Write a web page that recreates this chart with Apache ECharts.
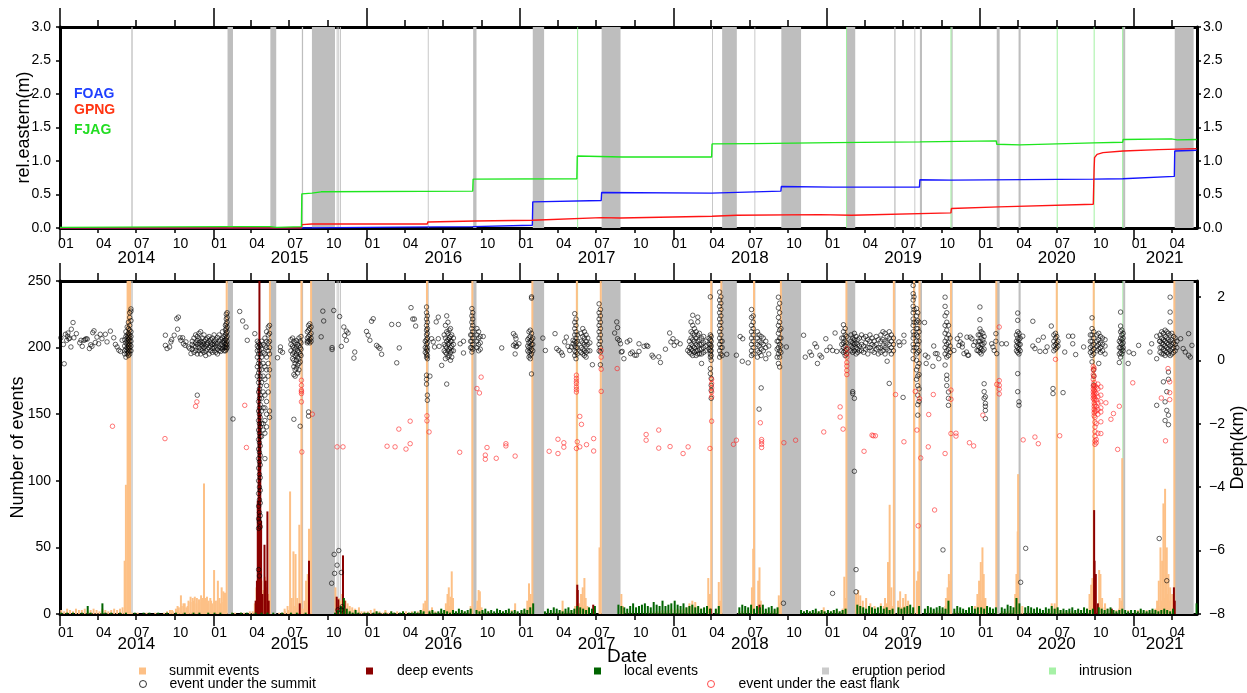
<!DOCTYPE html>
<html><head><meta charset="utf-8">
<script src="https://cdn.jsdelivr.net/npm/echarts@6/dist/echarts.min.js"></script>
<style>html,body{margin:0;padding:0;background:#fff}#c{width:1247px;height:693px}</style>
</head><body><div id="c"></div>
<script>
const FONT='"Liberation Sans", Arial, Helvetica, sans-serif';
const X_START='2014-01-01', X_END='2021-06-01';
const quarterMonthLabels=['01','04','07','10'];
const yearLabels=['2014','2015','2016','2017','2018','2019','2020','2021'];
const yearLabelDates=['2014-07-02','2015-07-02','2016-07-02','2017-07-02','2018-07-02','2019-07-02','2020-07-02','2021-03-16'];
const depthTicks=[-8,-6,-4,-2,0,2];

// eruption periods and intrusions [start, end]
const eruptions=[['2014-06-20','2014-06-23'],['2015-02-04','2015-02-17'],['2015-05-17','2015-05-31'],['2015-07-31','2015-08-03'],['2015-08-24','2015-10-18'],['2015-10-22','2015-10-24'],['2015-10-26','2015-10-28'],['2015-10-30','2015-11-01'],['2016-05-26','2016-05-28'],['2016-09-11','2016-09-19'],['2017-01-31','2017-02-27'],['2017-07-14','2017-08-28'],['2018-04-03','2018-04-05'],['2018-04-27','2018-06-01'],['2018-07-13','2018-07-15'],['2018-09-15','2018-11-01'],['2019-02-18','2019-03-10'],['2019-06-11','2019-06-14'],['2019-07-29','2019-07-31'],['2019-08-11','2019-08-16'],['2019-10-25','2019-10-28'],['2020-02-10','2020-02-17'],['2020-04-02','2020-04-07'],['2020-12-07','2020-12-12'],['2021-04-09','2021-05-24']];
const intrusions=[['2017-05-17','2017-05-19'],['2019-02-16','2019-02-18'],['2019-10-23','2019-10-25'],['2020-07-02','2020-07-04'],['2020-09-28','2020-09-30'],['2020-12-05','2020-12-07']];

// GNSS relative eastern displacement (m)
const foag=[['2014-01-01',0.0],['2015-07-30',0.0],['2016-01-01',0.01],['2016-09-10',0.02],['2017-01-30',0.04],['2017-01-31',0.39],['2017-07-13',0.41],['2017-07-14',0.53],['2018-04-01',0.52],['2018-09-14',0.55],['2018-09-15',0.62],['2019-01-15',0.61],['2019-08-10',0.61],['2019-08-11',0.72],['2019-10-25',0.715],['2020-09-28',0.73],['2020-12-06',0.735],['2020-12-07',0.76],['2021-04-08',0.77],['2021-04-09',1.15],['2021-05-31',1.16]];
const gpng=[['2014-01-01',0.0],['2015-07-30',0.0],['2015-07-31',0.05],['2015-08-24',0.06],['2016-05-25',0.06],['2016-05-26',0.09],['2016-09-15',0.105],['2017-01-30',0.115],['2017-01-31',0.135],['2017-07-14',0.155],['2017-08-28',0.15],['2018-04-03',0.175],['2018-06-01',0.19],['2018-12-15',0.2],['2019-03-01',0.19],['2019-10-24',0.225],['2019-10-25',0.29],['2020-02-15',0.315],['2020-09-27',0.355],['2020-09-29',0.9],['2020-09-30',1.05],['2020-10-06',1.1],['2020-10-20',1.125],['2020-12-07',1.15],['2021-03-01',1.17],['2021-05-31',1.185]];
const fjag=[['2014-01-01',0.01],['2015-02-04',0.02],['2015-05-17',0.02],['2015-06-01',0.01],['2015-07-30',0.02],['2015-07-31',0.51],['2015-08-24',0.52],['2015-09-15',0.54],['2016-09-10',0.55],['2016-09-11',0.73],['2017-05-16',0.735],['2017-05-17',1.075],['2017-09-01',1.06],['2018-04-02',1.06],['2018-04-03',1.255],['2018-07-12',1.26],['2018-07-13',1.285],['2019-01-15',1.275],['2019-08-11',1.285],['2020-02-09',1.3],['2020-02-10',1.25],['2020-04-05',1.24],['2020-09-28',1.27],['2020-12-06',1.28],['2020-12-07',1.32],['2021-04-01',1.33],['2021-04-15',1.315],['2021-05-31',1.32]];

// weekly background counts per year (week i starts Jan 4 + 7*i)
const weeklyStartYear=2014;
const summitWeekly=[
[3,2,4,3,2,4,3,3,4,2,3,4,3,2,4,3,2,3,4,3,4,0,0,0,1,0,1,0,0,1,0,0,1,0,0,1,2,3,2,4,5,6,8,6,9,10,8,9,10,9,8,10],
[9,10,8,9,0,0,1,1,0,1,1,0,2,2,5,8,10,9,8,0,0,0,1,1,2,3,4,6,5,0,4,8,6,0,0,0,0,0,0,0,0,0,6,5,5,4,3,3,2,3,2,2],
[2,3,1,2,2,1,2,1,2,1,2,1,2,2,1,2,1,2,3,4,0,3,2,2,1,2,3,4,6,4,2,1,2,2,1,3,0,4,5,2,1,2,1,1,2,1,2,1,2,3,2,1],
[2,3,4,5,0,0,0,0,1,2,1,2,1,2,3,2,2,3,2,3,4,5,3,2,2,3,0,0,0,0,0,0,0,0,3,2,1,2,2,1,2,1,2,1,2,1,2,2,3,2,3,4],
[3,4,3,4,5,6,5,6,5,4,3,4,6,0,3,5,0,0,0,0,0,0,2,2,3,3,4,5,4,6,3,3,2,2,3,4,0,0,0,0,0,0,0,1,2,1,2,1,2,2,3,2],
[2,2,3,3,2,4,6,0,0,0,5,6,5,4,4,3,3,4,5,6,8,10,6,0,4,5,6,5,4,3,0,6,0,3,3,2,3,2,3,4,6,8,0,2,2,2,2,3,3,4,6,8],
[10,12,6,4,3,2,0,2,2,2,3,3,4,5,6,0,2,2,3,2,3,2,2,3,4,4,4,3,2,2,2,2,2,3,3,3,4,6,8,0,6,8,5,4,3,3,3,4,6,0,3,2],
[2,3,3,2,3,2,3,4,6,10,12,15,10,0,0,0,0,0,0,0,0]];
const localWeekly=[
[1,0,1,0,1,0,0,1,0,6,1,0,0,0,8,1,0,1,0,0,1,0,1,0,0,1,0,0,1,0,1,0,0,1,0,0,1,0,0,1,0,0,1,0,0,1,0,1,0,0,1,0],
[1,0,1,0,0,0,1,0,0,1,0,1,0,0,1,0,1,0,1,0,1,0,0,1,0,0,1,0,1,0,0,1,0,0,0,0,0,0,0,0,0,1,3,6,12,4,2,1,3,1,0,1],
[1,0,1,2,1,0,1,0,2,1,0,1,2,0,1,1,2,1,3,2,0,2,3,1,2,4,3,2,1,3,2,4,3,2,3,4,0,3,2,3,4,2,3,2,4,3,2,3,4,2,3,2],
[3,4,3,5,8,0,0,0,2,4,3,5,4,3,2,4,5,3,4,6,5,4,3,5,4,6,0,0,0,0,0,0,0,7,6,5,4,6,8,5,6,7,8,6,5,9,7,6,10,6,7,8],
[10,7,6,8,5,6,7,5,6,4,5,6,4,0,4,6,0,0,0,0,0,0,5,7,6,5,7,4,6,5,7,4,5,6,4,5,0,0,0,0,0,0,0,3,2,3,2,3,4,2,3,2],
[3,2,3,4,2,3,4,0,0,0,7,6,5,4,6,5,4,5,6,4,5,3,4,0,5,4,5,6,7,5,0,6,0,4,6,5,4,5,6,5,4,10,0,4,6,5,4,3,5,6,4,5],
[5,4,6,5,4,5,0,5,4,7,6,5,12,8,0,5,6,5,4,5,4,3,5,4,6,4,5,3,4,3,4,5,3,4,3,5,4,3,4,0,5,4,3,4,5,3,2,3,4,3,2,3],
[3,2,4,3,2,3,4,3,2,3,4,3,2,4,0,0,0,0,0,0,0,8]];

// individual daily counts
const summitPeaks=[['2014-05-30',5],['2014-06-04',40],['2014-06-07',97],['2014-06-11',260],['2014-06-13',260],['2014-06-15',260],['2014-06-17',260],
['2014-09-25',3],['2014-10-08',6],['2014-10-16',14],['2014-10-22',8],['2014-10-29',5],['2014-11-03',10],['2014-11-08',13],['2014-11-13',12],['2014-11-18',13],['2014-11-23',12],['2014-11-28',11],['2014-12-03',14],['2014-12-07',12],['2014-12-10',98],['2014-12-13',12],['2014-12-17',13],['2014-12-21',10],['2014-12-25',12],['2014-12-29',8],['2015-01-03',33],['2015-01-07',10],['2015-01-12',25],['2015-01-16',12],['2015-01-21',20],['2015-01-25',17],['2015-01-29',16],['2015-02-02',260],
['2015-04-10',8],['2015-04-14',20],['2015-04-18',30],['2015-04-22',28],['2015-04-26',25],['2015-04-30',18],['2015-05-04',28],['2015-05-08',20],['2015-05-12',15],['2015-05-16',260],
['2015-06-20',4],['2015-06-27',6],['2015-07-03',92],['2015-07-07',12],['2015-07-11',47],['2015-07-16',45],['2015-07-20',12],['2015-07-25',67],['2015-07-30',260],['2015-08-06',10],['2015-08-10',25],['2015-08-14',30],['2015-08-17',64],['2015-08-22',260],
['2015-10-19',20],['2015-10-23',8],['2015-10-27',12],['2015-10-31',10],['2015-11-04',15],['2015-11-08',12],['2015-11-12',10],['2015-11-17',8],['2015-11-22',6],['2015-11-28',5],['2015-12-05',4],['2015-12-14',5],
['2016-01-20',4],['2016-02-15',3],['2016-05-16',8],['2016-05-20',10],['2016-05-24',260],['2016-06-05',5],['2016-07-08',8],['2016-07-12',15],['2016-07-15',20],['2016-07-19',13],['2016-07-22',32],['2016-07-25',12],['2016-09-05',6],['2016-09-09',260],['2016-09-21',10],['2016-09-24',18],['2016-09-27',17],['2016-10-01',5],['2016-12-20',8],
['2017-01-18',10],['2017-01-22',23],['2017-01-26',15],['2017-01-30',260],['2017-04-12',10],['2017-05-12',6],['2017-05-16',260],['2017-05-22',8],['2017-05-26',15],['2017-05-30',20],['2017-06-03',27],['2017-06-06',12],['2017-06-10',6],['2017-07-09',50],['2017-07-12',260],['2017-08-30',15],['2017-09-03',6],
['2018-02-08',8],['2018-02-15',10],['2018-02-22',9],['2018-03-25',27],['2018-03-29',15],['2018-04-01',260],['2018-04-19',24],['2018-04-22',10],['2018-04-25',260],['2018-07-07',20],['2018-07-10',49],['2018-07-12',260],['2018-07-22',25],['2018-07-25',35],['2018-07-28',10],['2018-09-09',14],['2018-09-12',8],['2018-09-14',260],['2018-12-25',5],
['2019-02-12',28],['2019-02-15',12],['2019-02-17',260],['2019-03-12',15],['2019-03-17',18],['2019-03-22',14],['2019-03-28',10],['2019-04-05',12],['2019-04-15',8],['2019-04-25',6],['2019-05-10',8],['2019-05-20',12],['2019-05-27',39],['2019-05-31',82],['2019-06-04',20],['2019-06-10',260],['2019-06-20',10],['2019-06-25',17],['2019-07-02',12],['2019-07-08',15],['2019-07-14',10],['2019-07-28',260],['2019-08-04',25],['2019-08-07',32],['2019-08-10',260],['2019-10-12',12],['2019-10-16',20],['2019-10-19',30],['2019-10-22',25],['2019-10-24',260],['2019-12-20',5],['2019-12-26',15],
['2019-12-30',25],['2020-01-03',39],['2020-01-07',50],['2020-01-10',30],['2020-01-14',12],['2020-02-09',260],['2020-03-25',15],['2020-03-28',30],['2020-03-31',62],['2020-04-01',105],['2020-06-20',8],['2020-06-27',8],['2020-07-02',260],['2020-09-18',15],['2020-09-22',22],['2020-09-25',27],['2020-09-28',260],['2020-10-11',33],['2020-10-14',30],['2020-10-18',12],['2020-10-25',8],['2020-11-29',12],['2020-12-03',10],['2020-12-05',117],
['2021-02-26',10],['2021-03-02',25],['2021-03-06',50],['2021-03-10',40],['2021-03-13',83],['2021-03-17',94],['2021-03-21',50],['2021-03-25',30],['2021-03-29',20],['2021-04-03',15],['2021-04-08',260]];
const deepPeaks=[['2015-04-12',10],['2015-04-15',25],['2015-04-17',85],['2015-04-19',170],['2015-04-21',260],['2015-04-23',150],['2015-04-25',70],['2015-04-28',15],['2015-05-03',52],['2015-05-06',25],['2015-05-10',77],['2015-05-13',10],['2015-07-26',8],['2015-08-17',40],['2015-10-22',13],['2015-10-26',11],['2015-11-06',44],['2015-11-10',10],['2017-05-17',22],['2017-05-18',18],['2017-06-24',7],['2018-03-31',4],['2018-07-25',7],['2020-09-29',78],['2020-09-30',40],['2020-10-03',30],['2020-10-08',8],['2020-11-10',4],['2021-04-07',20],['2021-04-09',10]];

// hypocentre depths (km): [date, depth, depth, ...]
const summitDepths=[
['2014-01-03',0.71],['2014-01-09',0.5],['2014-01-11',-0.11],['2014-01-14',0.82],['2014-01-17',0.63],['2014-01-19',0.76],['2014-01-20',0.86],['2014-01-22',0.68],['2014-01-24',0.7],['2014-01-27',0.42],['2014-01-28',0.98],['2014-02-01',1.19],['2014-02-03',0.71],['2014-02-09',0.84],['2014-02-17',0.55],['2014-02-20',0.63],['2014-02-23',0.44],['2014-02-27',0.63],['2014-03-02',0.65],['2014-03-04',0.68],['2014-03-07',0.67],['2014-03-12',0.37],['2014-03-15',0.49],['2014-03-18',0.44],['2014-03-20',0.87],['2014-03-23',0.93],['2014-03-26',0.56],['2014-03-30',0.73],['2014-04-03',0.52],['2014-04-07',0.82],['2014-04-11',0.68],['2014-04-19',0.82],['2014-04-23',0.58],['2014-05-01',0.92],['2014-05-09',0.71],['2014-05-13',0.5],['2014-05-17',0.42],['2014-05-21',0.32],['2014-05-25',0.28],['2014-05-29',0.63],
['2014-06-04',0.2,0.45,0.65,0.3],['2014-06-07',0.1,0.35,0.55,0.75,0.9],['2014-06-10',0.2,0.3,0.4,0.5,0.6,0.7,0.8,1.05],['2014-06-13',0.15,0.25,0.35,0.45,0.55,0.65,0.75,0.85,1.0,1.2],['2014-06-16',0.2,0.3,0.4,0.5,0.6,0.7,0.8,0.95,1.1,1.35,1.5],['2014-06-19',0.3,0.45,0.6,0.75,0.9,1.25,1.55,1.62],
['2014-09-09',0.79,0.47],['2014-09-13',0.37],['2014-09-19',0.42],['2014-09-22',0.58],['2014-09-24',0.65],['2014-09-30',0.79],['2014-10-06',1.31],['2014-10-08',0.98],['2014-10-10',1.36],['2014-10-14',0.71],['2014-10-16',0.63],['2014-10-20',0.71],['2014-10-22',0.52],['2014-10-26',0.47],['2014-10-28',0.58],['2014-11-03',0.42],['2014-11-06',0.37],['2014-11-09',0.21],
['2014-11-12',0.6,0.35,0.5],['2014-11-16',0.7,0.45,0.25],['2014-11-20',0.55,0.3,0.8,0.42],['2014-11-24',0.62,0.5,0.2,0.75,-1.1],['2014-11-28',0.68,0.4,0.55,0.3,0.85],['2014-12-02',0.5,0.35,0.6,0.9,0.2],['2014-12-06',0.55,0.45,0.7,0.3],['2014-12-10',0.6,0.4,0.25,0.5,0.8],['2014-12-14',0.45,0.65,0.3,0.15],['2014-12-18',0.5,0.7,0.35,0.55],['2014-12-22',0.4,0.6,0.2,0.75],['2014-12-26',0.55,0.3,0.45,0.65],['2014-12-30',0.5,0.38,0.7,0.25],['2015-01-03',0.6,0.4,0.3,0.8,0.5],['2015-01-07',0.45,0.25,0.65,0.55],['2015-01-11',0.52,0.35,0.72,0.2],['2015-01-15',0.6,0.42,0.3,0.8],['2015-01-19',0.5,0.65,0.38,0.28],['2015-01-23',0.7,0.45,0.58,0.35,0.9],['2015-01-27',0.55,0.4,0.75,0.3,0.62],['2015-01-30',0.5,0.65,0.8,0.95,1.1,0.4,0.3],['2015-02-01',0.55,0.7,0.85,1.0,1.15,1.3,1.45,0.45,0.35],['2015-02-03',0.6,0.75,0.9,1.05,1.2,1.35,1.5,0.5,0.4],['2015-02-17',-1.85],
['2015-03-05',1.54],['2015-03-12',1.24],['2015-03-20',1.05],['2015-03-23',0.63],['2015-04-10',0.84],
['2015-04-16',0.6,0.45,0.3,0.1,-0.2,-0.5],['2015-04-19',0.55,0.4,0.2,-0.1,-0.4,-0.7,-1.0,-1.3,-1.6,-1.9,-2.2,-2.5,-2.8,-3.1,-3.4,-3.8,-4.2,-4.6,-5.0,-5.3,-6.6],['2015-04-21',0.5,0.3,0.0,-0.3,-0.6,-0.9,-1.2,-1.5,-1.7,-2.0,-2.3,-2.6,-2.9,-3.2,-3.6,-4.0,-4.4,-4.8,-5.1,-6.8],['2015-04-23',0.45,0.2,-0.15,-0.5,-0.8,-1.1,-1.4,-1.8,-2.1,-2.4,-2.7,-3.0,-3.3,-3.7,-4.1,-4.5,-4.9,-5.25],['2015-04-26',0.6,0.35,0.1,-0.3,-0.7,-1.2,-1.6,-2.0,-2.4],['2015-04-30',0.5,0.25,-0.1,-0.5,-1.0,-1.5,-2.0,-2.2],['2015-05-04',0.7,0.45,0.2,-0.2,-0.6,-1.1,-1.5,-1.9,-2.3,-3.1],['2015-05-08',0.9,0.6,0.4,0.1,-0.3,-0.8,-1.3,-1.7,-2.1],['2015-05-12',1.05,0.8,0.55,0.3,-0.1,-0.5,-1.0],['2015-05-15',1.1,0.85,0.6,0.4,0.2,-0.3,-1.6,-1.8],
['2015-06-03',0.08],['2015-06-10',0.42,0.3],['2015-06-15',0.25],
['2015-07-05',0.5,0.65,0.3],['2015-07-09',0.7,0.45,0.2,0.05],['2015-07-12',0.6,0.4,0.25,0.0,-0.2,-0.45,-1.86],['2015-07-15',0.55,0.35,0.15,-0.1,-0.3,-0.5],['2015-07-18',0.62,0.42,0.2,0.0,-0.25],['2015-07-21',0.5,0.3,0.1,-0.15,-0.4],['2015-07-24',0.7,0.45,0.25,0.05,-0.1,-0.3],['2015-07-27',0.6,0.4,0.2,-0.05,-2.08],['2015-07-29',0.75,0.55,0.35,0.15],
['2015-08-13',0.55,0.7,0.9,0.6],['2015-08-16',0.6,0.75,0.95,1.1,-1.63,-1.76],['2015-08-19',0.65,0.8,1.0,1.15,0.55],['2015-08-22',0.7,0.85,1.05,0.6],
['2015-09-15',0.74],['2015-09-19',1.55],['2015-09-21',1.24],['2015-10-10',-7.03],['2015-10-11',0.4,0.34],['2015-10-15',1.57],['2015-10-16',-6.12],['2015-10-17',-6.72],['2015-10-23',-6.46],['2015-10-25',-7.87],['2015-10-27',-6.0],['2015-10-29',1.38],['2015-11-02',0.44,-6.69,-7.87],['2015-11-04',-7.77],['2015-11-08',1.05],['2015-11-10',0.78],['2015-11-14',0.92,0.63],['2015-11-18',0.86],['2015-12-02',0.07],['2015-12-04',0.26],
['2016-01-01',0.91],['2016-01-05',0.79],['2016-01-09',0.63],['2016-01-13',1.23],['2016-01-17',1.31],['2016-01-25',0.47],['2016-01-29',0.42],['2016-02-02',0.37],['2016-02-06',0.19],['2016-03-01',1.13],['2016-03-13',-0.08],['2016-03-17',1.13],['2016-03-19',0.39],['2016-04-16',1.66],['2016-04-20',1.3],['2016-04-24',1.3],['2016-04-27',1.08],
['2016-05-20',0.4,0.6,0.25],['2016-05-23',1.68,1.5,1.3,1.1,0.95,0.8,0.65,0.5,0.35,0.2,0.1,-0.47,-0.6,-0.75],['2016-05-25',1.4,1.2,1.0,0.85,0.7,0.55,0.4,0.3,0.15,0.05,-1.1,-1.26],
['2016-05-31',-0.5],['2016-06-04',0.68],['2016-06-08',0.58],['2016-06-11',0.42],['2016-06-15',1.21],['2016-06-20',1.36,0.68],['2016-06-22',0.44],['2016-06-28',-0.16],
['2016-07-04',0.8,0.5,0.3],['2016-07-07',1.1,0.7,0.45,0.25,0.05],['2016-07-10',1.4,0.9,0.6,0.4,0.2,-0.75],['2016-07-13',1.2,0.85,0.65,0.5,0.3,0.1],['2016-07-16',0.95,0.7,0.55,0.35,0.15],['2016-07-19',1.0,0.75,0.6,0.4,0.25,0.0],['2016-07-22',0.8,0.6,0.45,0.3,0.1],['2016-07-26',0.7,0.5,0.3],
['2016-08-11',0.52],['2016-08-19',0.6,0.23],
['2016-09-05',0.6,0.8,0.4],['2016-09-08',1.63,1.4,1.2,1.0,0.8,0.6,0.4,0.26],['2016-09-10',1.5,1.3,1.1,0.9,0.7,0.5,0.35],['2016-09-20',1.0,0.8,0.6,0.4],['2016-09-24',0.9,0.7,0.5,0.3],['2016-09-28',0.75,0.55,0.35],['2016-10-05',0.75],
['2016-11-18',0.39],['2016-12-16',0.84,0.47],['2016-12-20',0.77,0.52,0.2],['2016-12-22',0.43,0.68],['2016-12-24',0.45],['2016-12-29',0.52],
['2017-01-19',0.45,0.65,0.3],['2017-01-22',0.9,0.7,0.55,0.4,0.25,0.1],['2017-01-25',0.95,0.75,0.6,0.45,0.3,0.15,0.05],['2017-01-28',2.0,1.96,0.85,0.65,0.5,0.35,0.2,-0.43],['2017-01-31',0.7,0.5,0.3],
['2017-02-24',0.7],['2017-03-02',0.31],['2017-03-25',0.84],['2017-03-29',0.37],['2017-04-03',0.31],['2017-04-09',0.24],['2017-04-12',0.16],['2017-04-17',0.58],['2017-04-21',0.73],['2017-04-25',0.44],['2017-04-29',0.31],['2017-05-03',0.42],['2017-05-07',0.52,0.63],
['2017-05-11',1.47,1.2,1.0,0.8,0.6,0.45,0.3,0.15],['2017-05-14',1.3,1.1,0.9,0.7,0.55,0.4,0.25,0.05],['2017-05-17',0.8,0.6,0.4,0.2],
['2017-05-26',0.85,0.6,0.4,0.25],['2017-05-30',1.0,0.75,0.55,0.35,0.2],['2017-06-03',0.9,0.7,0.5,0.3,0.15],['2017-06-07',0.8,0.6,0.45,0.25,0.1],['2017-06-11',0.7,0.5,0.3],['2017-06-16',0.55,0.3],['2017-06-22',-0.14],
['2017-07-08',1.78,1.5,1.3,1.1,0.9,0.7,0.5,0.3],['2017-07-11',1.6,1.4,1.2,1.0,0.8,0.6,0.4,0.26,-0.14],
['2017-08-14',0.86],['2017-08-19',1.21],['2017-08-21',1.03,0.68],['2017-08-25',0.63],['2017-08-28',0.52],['2017-08-30',0.26],['2017-09-01',0.28],['2017-09-05',0.05],['2017-09-13',0.58],['2017-09-19',0.63],['2017-09-21',0.21],['2017-09-25',0.26],['2017-10-01',0.16],['2017-10-05',0.16],['2017-10-11',0.52,0.28],['2017-10-23',0.44],['2017-10-29',0.47],['2017-11-01',0.44],['2017-11-11',0.16],['2017-11-14',0.1],['2017-11-27',0.11],['2017-12-01',-0.07],['2017-12-13',0.35],['2017-12-23',0.86],['2017-12-26',0.58],['2017-12-31',0.68],['2018-01-03',0.47],['2018-01-09',0.58],['2018-01-17',0.52],['2018-02-04',0.31],
['2018-02-08',0.6,0.4,0.25],['2018-02-12',1.21,0.9,0.7,0.5,0.35,0.2],['2018-02-16',1.42,1.1,0.85,0.65,0.45,0.3,0.15],['2018-02-20',1.0,0.8,0.6,0.4,0.25],['2018-02-24',0.9,0.7,0.5,0.3,0.15],['2018-02-28',1.36,1.21,0.8,0.6,0.45,0.3,0.2],['2018-03-04',0.85,0.65,0.5,0.35,0.2],['2018-03-09',0.7,0.5,0.35,0.2,-0.1],['2018-03-14',0.75,0.55,0.4,0.25],['2018-03-19',0.6,0.45,0.3],
['2018-03-27',0.7,0.5,0.35],['2018-03-30',2.0,0.8,0.65,0.5,0.4,0.3,0.2,0.1,-0.26,-0.42],['2018-04-01',0.75,0.6,0.45,0.3,0.15,0.0,-0.57,-0.79,-0.95,-1.2],
['2018-04-21',2.15,1.9,1.7,1.5,1.3,1.1,0.9,0.7,0.5,0.3,0.1],['2018-04-24',2.0,1.8,1.6,1.4,1.2,1.0,0.8,0.6,0.4,0.2],['2018-04-27',0.6,0.4,0.15],
['2018-05-08',0.19],['2018-05-31',0.16],['2018-06-09',0.75],['2018-06-14',-0.03],['2018-06-15',0.68],['2018-06-28',-0.08],
['2018-07-06',1.6,1.35,1.1,0.9,0.7,0.5,0.3,0.15],['2018-07-10',1.4,1.2,1.0,0.8,0.6,0.4,0.2],
['2018-07-20',0.9,0.7,0.5,0.3,0.1],['2018-07-24',0.8,0.6,0.45,0.25,-1.54],['2018-07-29',0.75,0.55,0.35,0.15,-0.87],['2018-08-03',0.7,0.5,0.3],['2018-08-09',0.6,0.4,0.05],['2018-08-16',0.45,0.2],
['2018-09-05',0.6,0.35,0.1],['2018-09-08',1.99,1.65,1.35,1.1,0.85,0.6,0.4,0.2,-0.1],['2018-09-11',1.8,1.5,1.2,0.95,0.7,0.5,0.3,0.1,-0.21],['2018-09-14',1.0,0.7,0.45,0.25],['2018-09-20',-7.66],['2018-09-27',0.42],
['2018-11-07',0.79],['2018-11-11',0.1],['2018-11-22',0.26],['2018-11-26',0.16],['2018-12-04',0.52],['2018-12-08',0.42],['2018-12-10',-0.1],['2018-12-16',0.16],['2018-12-20',0.1],['2018-12-30',0.68],['2019-01-01',0.31],['2019-01-09',0.42],['2019-01-15',0.31,-7.35],['2019-01-21',0.86],['2019-01-25',0.28],
['2019-02-06',0.7,0.5,0.3],['2019-02-10',1.12,0.9,0.7,0.55,0.4,0.25],['2019-02-14',1.0,0.8,0.6,0.45,0.3,0.15],['2019-02-17',0.75,0.55,0.35,0.2],
['2019-02-28',0.8,0.6,0.45,0.3],['2019-03-04',0.7,0.55,0.4,0.25,-1.05,-0.99],['2019-03-08',0.85,0.65,0.5,0.3,-1.2,-3.5],['2019-03-12',0.75,0.55,0.4,0.2,-6.6,-7.3],['2019-03-16',0.65,0.5,0.35,0.25],['2019-03-20',0.7,0.45,0.3],
['2019-03-25',0.8,0.5,0.3],['2019-03-30',0.7,0.45,0.25],['2019-04-04',0.75,0.55,0.35],['2019-04-09',0.65,0.4,0.2],['2019-04-14',0.8,0.6,0.4],['2019-04-19',0.7,0.5,0.3],['2019-04-24',0.6,0.45,0.25],['2019-04-29',0.75,0.5,0.35],['2019-05-04',0.65,0.4,0.2],
['2019-05-10',0.8,0.6,0.4,0.25],['2019-05-15',0.9,0.65,0.45,0.3],['2019-05-20',0.85,0.6,0.4,0.2],['2019-05-25',0.75,0.55,0.35,-0.03],['2019-05-30',0.9,0.7,0.5,0.3,-0.73],['2019-06-04',0.8,0.6,0.4,0.2],['2019-06-09',0.7,0.5,0.3],
['2019-06-22',0.58],['2019-06-24',0.47],['2019-07-02',-1.17],['2019-07-04',0.79,0.58],
['2019-07-26',2.36,2.1,1.9,1.7,1.5,1.3,1.1,0.9,0.7,0.5,0.3,0.05],['2019-07-28',2.0,1.6,1.2,0.8,0.4],
['2019-08-03',1.63,1.4,1.2,1.0,0.8,0.6,0.4,0.2,0.0,-0.3,-0.6],['2019-08-06',1.5,1.25,1.0,0.75,0.5,0.25,-0.2,-0.5,-0.8,-1.1,-1.4,-1.73],['2019-08-09',1.2,0.9,0.6,0.3,-0.1,-0.45,-0.9,-1.3],
['2019-08-22',1.19],['2019-08-24',0.16],['2019-08-26',-0.1],['2019-08-30',0.1],['2019-09-11',-0.19],['2019-09-13',0.45],['2019-09-17',0.21],['2019-09-21',0.21],['2019-09-25',0.05],['2019-10-05',-5.98],
['2019-10-10',1.99,1.7,1.4,1.1,0.85,0.6,0.4,0.2,-0.15],['2019-10-14',1.5,1.2,0.95,0.7,0.5,0.3,0.1,-0.47,-0.6,-0.8],['2019-10-18',1.1,0.8,0.55,0.35,0.15,-1.0,-1.2,-1.42],['2019-10-22',0.7,0.45,0.25],
['2019-10-31',0.31],['2019-11-08',0.68],['2019-11-12',0.47],['2019-11-15',0.79,0.58],['2019-11-20',0.52,0.42],['2019-11-24',0.21],['2019-11-30',0.26],['2019-12-01',0.73],['2019-12-03',0.16],['2019-12-05',0.16],['2019-12-09',0.73],['2019-12-13',0.68],['2019-12-17',0.47],['2019-12-21',0.58],['2019-12-25',0.31],
['2019-12-28',0.8,0.6,0.45,0.3],['2020-01-01',1.68,1.28,0.99,0.8,0.6,0.4,0.25],['2020-01-04',0.9,0.7,0.5,0.35,0.2],['2020-01-08',0.85,0.65,0.5,0.3],['2020-01-11',0.75,0.55,0.35,-0.74,-0.99,-1.2],['2020-01-14',-1.36,-1.45,-1.58,-1.84,-1.15],
['2020-01-29',0.52],['2020-02-01',0.42],['2020-02-04',0.31],['2020-02-08',0.84,0.6],['2020-02-10',0.21],['2020-02-22',0.52],['2020-03-04',0.52],
['2020-03-28',0.8,0.6,0.45,0.3],['2020-03-31',1.49,1.26,0.9,0.7,0.55,0.4,0.25,-0.42,-0.99],['2020-04-03',0.85,0.65,0.5,0.35,0.2,-1.31,-1.42],['2020-04-06',0.7,0.5,0.3],['2020-04-07',-7.0],
['2020-04-12',0.76],['2020-04-19',-5.93],['2020-05-06',1.23,0.45],['2020-05-11',0.37],['2020-05-19',0.63],['2020-05-23',0.28],['2020-05-31',0.73],['2020-06-05',0.28],['2020-06-09',0.42],['2020-06-19',1.08],['2020-06-23',-0.89,-1.05],
['2020-06-25',0.8,0.6,0.45,0.3],['2020-06-29',0.85,0.7,0.5,0.35],['2020-07-02',0.75,0.55,0.4],['2020-07-05',0.6,0.45],
['2020-07-17',-1.02],['2020-07-21',0.26],['2020-07-30',0.76],['2020-08-09',0.76,0.52],['2020-08-16',0.18],['2020-09-04',0.42],
['2020-09-20',0.8,0.6,0.4,0.25],['2020-09-24',1.34,1.0,0.8,0.6,0.45,0.3,0.15,-0.05],['2020-09-28',0.9,0.7,0.5,0.35,0.2,-0.3,-0.5,-0.78],
['2020-10-06',0.8,0.6,0.45,0.3],['2020-10-10',0.85,0.65,0.5,0.35,-0.1],['2020-10-14',0.75,0.55,0.4,0.25],['2020-10-19',0.7,0.5,0.3],['2020-10-25',0.65,0.45,0.2],
['2020-11-28',0.6,0.4,0.2,-0.07],['2020-12-01',1.52,1.08,0.9,0.7,0.55,0.4,0.25,0.1],['2020-12-04',0.95,0.8,0.65,0.5,0.35,0.2],['2020-12-07',0.85,0.7,0.55,0.4,0.3],
['2020-12-19',-0.1],['2020-12-21',0.26],['2021-01-01',0.21],['2021-01-13',0.47],['2021-02-09',0.26],['2021-02-13',0.52],['2021-02-25',0.76,0.05,-1.42],['2021-03-03',-5.62],['2021-03-04',0.6],
['2021-03-05',0.8,0.6,0.4,0.25],['2021-03-09',0.9,0.7,0.55,0.4,0.2],['2021-03-13',0.85,0.65,0.5,0.35,0.2,-0.68],['2021-03-17',0.95,0.75,0.6,0.45,0.3,0.15,-1.31,-1.9],['2021-03-21',0.9,0.7,0.55,0.4,0.25,-0.99,-1.58,-6.95],['2021-03-25',0.85,0.65,0.5,0.35,0.2,-0.37,-0.6,-1.73,-2.03],['2021-03-29',1.99,1.52,1.21,0.8,0.6,0.45,0.3,0.15],['2021-04-02',0.85,0.65,0.5,0.35,0.2],['2021-04-06',0.75,0.55,0.4,0.25],['2021-04-10',0.7,0.5,0.3],['2021-04-14',0.6,0.4],
['2021-04-23',0.68],['2021-04-29',0.37],['2021-05-04',0.26],['2021-05-12',0.84,0.16],['2021-05-16',0.1],['2021-05-20',0.47]];
const flankDepths=[
['2014-05-06',-2.08],['2014-09-08',-2.47],['2014-11-20',-1.45],['2014-11-23',-1.31],['2015-03-17',-1.42],['2015-03-21',-2.75],
['2015-07-30',-0.63,-0.79,-0.94,-0.99,-1.05,-1.31],['2015-07-31',-2.89],['2015-08-25',-1.7],['2015-10-23',-2.73],['2015-11-06',-2.73],
['2016-02-19',-2.71],['2016-03-09',-2.73],['2016-03-18',-2.17],['2016-04-04',-2.8],['2016-04-14',-2.63,-1.92],['2016-05-24',-1.75,-1.91],['2016-05-29',-2.26],['2016-08-10',-2.9],['2016-09-20',-0.89],['2016-09-26',-1.03],['2016-09-30',-0.53],['2016-10-10',-2.99,-3.12],['2016-10-14',-2.75],['2016-11-05',-3.09],['2016-11-28',-2.63,-2.7],['2016-12-20',-3.02],
['2017-03-11',-2.87],['2017-04-01',-2.49,-2.94],['2017-04-15',-2.6,-2.74],['2017-05-15',-0.47,-0.57,-0.66,-0.73,-0.84,-0.92,-1.0,-2.78],['2017-05-17',-2.57],['2017-05-23',-1.77,-2.73],['2017-05-27',-2.02],['2017-06-08',-2.66],['2017-06-25',-2.47,-2.86],['2017-07-13',0.31,0.1,-0.28,-0.98],['2017-08-20',-0.26],['2017-10-28',-2.34,-2.52],['2017-11-27',-2.2,-2.77],['2017-12-24',-2.72],['2018-01-24',-2.94],['2018-02-05',-2.73],
['2018-03-29',-2.78],['2018-04-02',-0.6,-0.73,-0.87,-1.0,-1.15,-1.92],['2018-05-24',-2.65],['2018-05-31',-2.52],['2018-07-27',-1.97],['2018-07-30',-2.5,-2.57,-2.65,-2.75],['2018-09-21',-2.6],['2018-10-19',-2.52],['2018-12-25',-2.26],
['2019-02-02',-1.47,-1.79],['2019-02-09',-2.17],['2019-02-18',0.37,0.21,0.1,-0.07,-0.18,-0.32,-0.45],['2019-03-31',-2.87],['2019-04-19',-2.36],['2019-04-22',-2.38],['2019-04-27',-2.38],['2019-06-14',-1.08],['2019-07-04',-2.57],['2019-07-31',-0.98],['2019-08-04',-2.2],['2019-08-07',-5.22],['2019-08-10',-1.21],['2019-08-13',-3.08],['2019-08-31',-2.73],['2019-09-01',-1.71],['2019-09-12',-1.08],['2019-09-15',-4.72],['2019-10-10',-2.94],['2019-10-24',-0.94,-1.23,-2.31],['2019-11-05',-2.39,-2.3],['2019-12-07',-2.6],['2019-12-17',-2.7],
['2020-01-08',-1.73],['2020-02-10',-0.76],['2020-02-16',1.05,-0.64,-0.79,-0.91,-1.06],['2020-04-13',-2.51],['2020-05-11',-2.42],['2020-05-19',-2.63],['2020-06-29',0.03],['2020-07-09',-2.38],
['2020-09-27',-0.2,-0.3,-0.45,-0.6,-0.8,-0.9,-1.0,-1.1,-1.2],['2020-09-29',-0.25,-0.5,-0.7,-0.85,-0.95,-1.05,-1.15,-1.25,-1.35,-1.45,-1.55,-1.65,-1.75],['2020-10-01',-0.8,-1.0,-1.2,-1.4,-1.6,-1.8,-1.95,-2.1,-2.25,-2.4,-2.55,-2.65],['2020-10-04',-0.85,-1.05,-1.25,-1.45,-1.6,-2.0,-2.5,-2.6],['2020-10-08',-0.75,-0.9,-1.15,-1.35,-1.55,-1.7,-2.3],['2020-10-15',-0.84,-1.1,-1.31,-1.5,-1.63,-1.94,-2.31],['2020-10-27',-1.34],['2020-11-08',-1.86],['2020-11-14',-1.68],['2020-11-24',-2.81],['2020-11-28',-1.45],['2020-12-30',-0.71],
['2021-03-08',-1.19],['2021-03-18',-2.54],['2021-03-24',-0.26],['2021-03-28',-0.68,-1.02,-1.24]];

// ---------- build ----------
function T(s){const p=s.split('-').map(Number);return new Date(p[0],p[1]-1,p[2]).getTime();}
const tMin=T(X_START), tMax=T(X_END);
const qTicks=[], qLabels=[], yTicks=[];
yearLabels.forEach(y=>{
  quarterMonthLabels.forEach(m=>{
    const a=T(y+'-'+m+'-01'), b=T(y+'-'+m+'-15');
    if(a<=tMax) qTicks.push(a);
    if(b<=tMax) qLabels.push(b);
  });
  yTicks.push(T(y+'-01-01'));
});
const yLabs=yearLabelDates.map(T);
const pairs=a=>a.map(d=>[T(d[0]),d[1]]);
function weekly(arr){const out=[];arr.forEach((vals,k)=>{const y=weeklyStartYear+k;vals.forEach((v,i)=>{const t=new Date(y,0,4+7*i).getTime();if(v>0&&t<tMax)out.push([t,v]);});});return out;}
function flat(rows){const out=[];rows.forEach(r=>{const t=T(r[0]);for(let i=1;i<r.length;i++)out.push([t,r[i]]);});return out;}
const bands=a=>a.map(e=>[{xAxis:T(e[0])},{xAxis:T(e[1])}]);

const BLACK='#000';
function xAx(grid,pos,ticks,len,labels,fmt,fs,margin,line){
  return {type:'value',gridIndex:grid,position:pos,min:tMin,max:tMax,splitLine:{show:false},
    axisLine:{show:line,onZero:false,lineStyle:{color:BLACK,width:3}},
    axisTick:{show:true,customValues:ticks,length:len,lineStyle:{color:BLACK,width:1.5}},
    axisLabel:labels?{show:true,customValues:labels,formatter:fmt,fontSize:fs,color:BLACK,margin:margin,fontFamily:FONT}:{show:false}};
}
const monthFmt=v=>quarterMonthLabels[Math.floor(new Date(v).getMonth()/3)];
const yearFmt=v=>String(new Date(v).getFullYear());

const option={
  animation:false,
  textStyle:{fontFamily:FONT},
  grid:[{left:60,right:50,top:27,height:201,containLabel:false,outerBoundsMode:'none'},
        {left:60,right:50,top:281,height:333,containLabel:false,outerBoundsMode:'none'}],
  xAxis:[
    xAx(0,'bottom',qTicks,5,qLabels,monthFmt,14,9,true),
    xAx(0,'bottom',yTicks,12,yLabs,yearFmt,17,22,false),
    xAx(0,'top',qTicks,7,null,null,0,0,true),
    xAx(0,'top',yTicks,19,null,null,0,0,false),
    xAx(1,'bottom',qTicks,6,qLabels,monthFmt,14,12,true),
    xAx(1,'bottom',yTicks,12,yLabs,yearFmt,17,22,false),
    xAx(1,'top',qTicks,8,null,null,0,0,true),
    xAx(1,'top',yTicks,18,null,null,0,0,false)
  ],
  yAxis:[
    {type:'value',gridIndex:0,position:'left',min:0,max:3,interval:0.5,splitLine:{show:false},
     axisLine:{show:true,lineStyle:{color:BLACK,width:3}},axisTick:{show:true,length:4,lineStyle:{color:BLACK,width:1.5}},
     axisLabel:{formatter:v=>v.toFixed(1),fontSize:14,color:BLACK,margin:9},
     name:'rel.eastern(m)',nameLocation:'middle',nameRotate:90,nameGap:27,nameMoveOverlap:false,nameTextStyle:{fontSize:18,color:BLACK}},
    {type:'value',gridIndex:0,position:'right',min:0,max:3,interval:0.5,splitLine:{show:false},
     axisLine:{show:true,lineStyle:{color:BLACK,width:3}},axisTick:{show:true,length:4,lineStyle:{color:BLACK,width:1.5}},
     axisLabel:{formatter:v=>v.toFixed(1),fontSize:14,color:BLACK,margin:6}},
    {type:'value',gridIndex:1,position:'left',min:0,max:250,interval:50,splitLine:{show:false},
     axisLine:{show:true,lineStyle:{color:BLACK,width:3}},axisTick:{show:true,length:4,lineStyle:{color:BLACK,width:1.5}},
     axisLabel:{fontSize:14,color:BLACK,margin:9},
     name:'Number of events',nameLocation:'middle',nameRotate:90,nameGap:33,nameMoveOverlap:false,nameTextStyle:{fontSize:18,color:BLACK}},
    {type:'value',gridIndex:1,position:'right',min:-8,max:2.5,splitLine:{show:false},
     axisLine:{show:true,lineStyle:{color:BLACK,width:3}},axisTick:{show:true,customValues:depthTicks,length:4,lineStyle:{color:BLACK,width:1.5}},
     axisLabel:{customValues:depthTicks,formatter:v=>(v<0?'\u2212':'')+Math.abs(v),align:'right',fontSize:14,color:BLACK,margin:28},
     name:'Depth(km)',nameLocation:'middle',nameRotate:90,nameGap:32,nameMoveOverlap:false,nameTextStyle:{fontSize:18,color:BLACK}}
  ],
  title:{text:'Date',left:607,top:647,padding:0,textStyle:{fontSize:19,fontWeight:'normal',color:BLACK,fontFamily:FONT}},
  legend:[],
  series:[]
};

// legends
const topLeg=[['FOAG','#1f3fff',87],['GPNG','#ff3412',103],['FJAG','#22dd22',123]];
topLeg.forEach(l=>option.legend.push({left:69,top:l[2],padding:0,itemWidth:0,itemHeight:14,selectedMode:false,
  data:[{name:l[0],icon:'none',textStyle:{color:l[1],fontWeight:'bold',fontSize:14,fontFamily:FONT}}]}));
const botLeg=[['summit events',139,664,'rect',18],['deep events',366,664,'rect',19],['local events',594,664,'rect',18],['eruption period',822,664,'rect',18],['intrusion',1049,664,'rect',18],['event under the summit',139,677,'circle',18],['event under the east flank',707,677,'circle',19]];
botLeg.forEach(l=>option.legend.push({left:l[1],top:l[2],padding:0,itemWidth:7,itemHeight:7,icon:l[3],selectedMode:false,
  itemStyle:l[3]==='circle'?{borderWidth:1}:{},
  data:[l[0]],textStyle:{fontSize:14,color:BLACK,fontFamily:FONT,padding:[0,0,0,l[4]]}}));

// bands
[[0,0],[4,2]].forEach(([xi,yi],g)=>{
  option.series.push({type:'scatter',name:'eruption period',xAxisIndex:xi,yAxisIndex:yi,data:[],z:1,
    itemStyle:{color:'#bebebe'},markArea:{silent:true,itemStyle:{color:'#bebebe'},data:bands(eruptions)}});
  option.series.push({type:'scatter',name:'intrusion',xAxisIndex:xi,yAxisIndex:yi,data:[],z:g?3:1,
    itemStyle:{color:'#90ee90'},markArea:{silent:true,itemStyle:{color:'#90ee90',opacity:g?0.7:1},data:bands(intrusions)}});
});
// GNSS lines
[['FOAG',foag,'#1414ff'],['GPNG',gpng,'#ff1414'],['FJAG',fjag,'#1ee61e']].forEach(s=>option.series.push({
  type:'line',name:s[0],xAxisIndex:0,yAxisIndex:0,data:pairs(s[1]),symbol:'none',z:4,
  lineStyle:{color:s[2],width:1.4},itemStyle:{color:s[2]}}));
// bars
const barBase={type:'bar',xAxisIndex:4,yAxisIndex:2,barWidth:2,barGap:'-100%',clip:true,z:2};
option.series.push(Object.assign({},barBase,{name:'summit events',data:weekly(summitWeekly).concat(pairs(summitPeaks)),itemStyle:{color:'#fdc086'}}));
option.series.push(Object.assign({},barBase,{name:'deep events',data:pairs(deepPeaks),itemStyle:{color:'#8b0000'}}));
option.series.push(Object.assign({},barBase,{name:'local events',data:weekly(localWeekly),itemStyle:{color:'#006400'}}));
// depth scatter
option.series.push({type:'scatter',name:'event under the summit',xAxisIndex:4,yAxisIndex:3,data:flat(summitDepths),symbol:'circle',symbolSize:4.5,clip:true,z:6,
  itemStyle:{color:'rgba(0,0,0,0)',borderColor:'#000',borderWidth:0.75}});
option.series.push({type:'scatter',name:'event under the east flank',xAxisIndex:4,yAxisIndex:3,data:flat(flankDepths),symbol:'circle',symbolSize:4.5,clip:true,z:6,
  itemStyle:{color:'rgba(0,0,0,0)',borderColor:'#ff2020',borderWidth:0.75}});

const chart=echarts.init(document.getElementById('c'),null,{renderer:'canvas'});
chart.setOption(option);
</script></body></html>
